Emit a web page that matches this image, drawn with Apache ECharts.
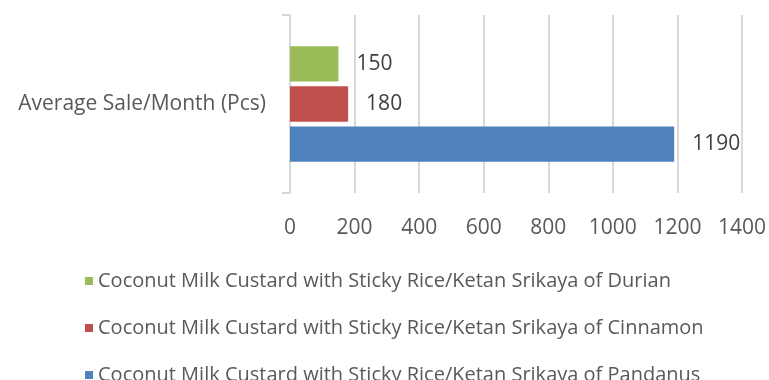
<!DOCTYPE html>
<html>
<head>
<meta charset="utf-8">
<script src="https://cdn.jsdelivr.net/npm/echarts@6/dist/echarts.min.js"></script>
<style>
  html, body { margin: 0; padding: 0; background: #fff; }
  #chart { width: 769px; height: 380px; }
</style>
</head>
<body>
<div id="chart"></div>
<script>
var categories = ['Average Sale/Month (Pcs)'];
var seriesNames = [
  'Coconut Milk Custard with Sticky Rice/Ketan Srikaya of Durian',
  'Coconut Milk Custard with Sticky Rice/Ketan Srikaya of Cinnamon',
  'Coconut Milk Custard with Sticky Rice/Ketan Srikaya of Pandanus'
];
var durian = [150];
var cinnamon = [180];
var pandanus = [1190];
var colors = ['#9BBB59', '#C0504D', '#4F81BD'];

var font = '"Open Sans", sans-serif';
var values = [durian, cinnamon, pandanus];

var series = values.map(function (v, i) {
  return {
    name: seriesNames[i],
    type: 'bar',
    data: v,
    barGap: '14%',
    barCategoryGap: '35%',
    itemStyle: { color: colors[i] },
    label: {
      show: true,
      position: 'right',
      distance: 18,
      color: '#404040',
      fontSize: 21,
      fontFamily: font
    }
  };
});

var chart = echarts.init(document.getElementById('chart'));
chart.setOption({
  animation: false,
  grid: { left: 290, right: 26, top: 15, bottom: 187, containLabel: false },
  xAxis: {
    type: 'value',
    min: 0,
    max: 1400,
    interval: 200,
    axisLine: { show: false },
    axisTick: { show: false },
    splitLine: { lineStyle: { color: '#d9d9d9', width: 2 } },
    axisLabel: {
      color: '#595959', fontSize: 21, fontFamily: font, margin: 25,
      formatter: function (v) { return String(v); }
    }
  },
  yAxis: {
    type: 'category',
    data: categories,
    axisLine: { lineStyle: { color: '#d9d9d9', width: 2 } },
    axisTick: { show: true, length: 8, lineStyle: { color: '#d9d9d9', width: 2 } },
    axisLabel: { color: '#595959', fontSize: 21, fontFamily: font, margin: 24 }
  },
  legend: {
    orient: 'vertical',
    left: 80,
    top: 266,
    height: 200,
    data: seriesNames,
    icon: 'rect',
    itemWidth: 8,
    itemHeight: 8,
    itemGap: 27,
    textStyle: { color: '#595959', fontSize: 20, fontFamily: font }
  },
  series: series
});
</script>
</body>
</html>
